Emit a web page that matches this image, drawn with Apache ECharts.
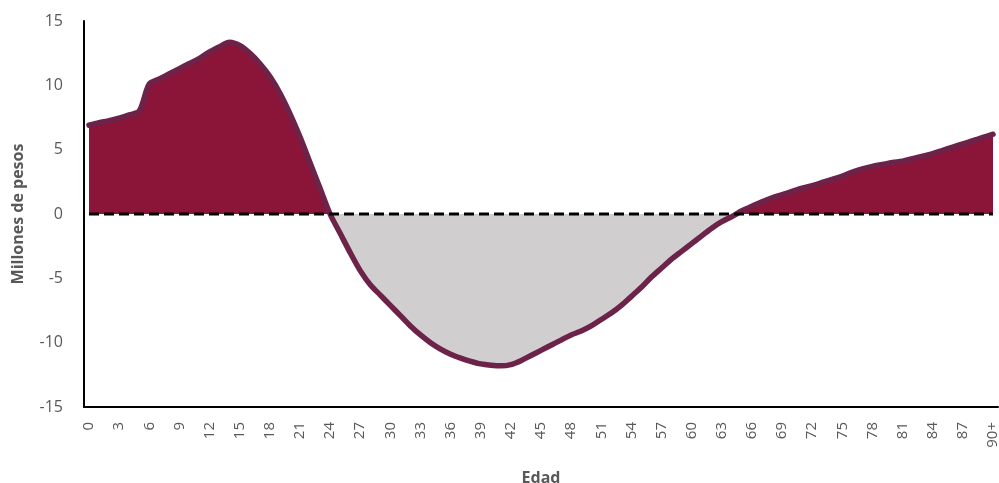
<!DOCTYPE html>
<html>
<head>
<meta charset="utf-8">
<script src="https://cdn.jsdelivr.net/npm/echarts@6/dist/echarts.min.js"></script>
<style>html,body{margin:0;padding:0;background:#fff}#c{width:999px;height:483px}</style>
</head>
<body>
<div id="c"></div>
<script>
const categories = [];
for (let a = 0; a < 90; a++) categories.push(String(a));
categories.push('90+');

const values = [
  6.9, 7.1, 7.25, 7.45, 7.7, 8.0, 10.1, 10.5, 10.9, 11.3,
  11.7, 12.1, 12.6, 13.0, 13.35, 13.1, 12.5, 11.7, 10.7, 9.4,
  7.8, 6.0, 4.0, 2.0, 0.0, -1.5, -3.0, -4.4, -5.5, -6.3,
  -7.1, -7.9, -8.7, -9.4, -10.0, -10.5, -10.9, -11.2, -11.45, -11.65,
  -11.75, -11.8, -11.7, -11.4, -11.0, -10.6, -10.2, -9.8, -9.4, -9.1,
  -8.7, -8.2, -7.7, -7.1, -6.4, -5.7, -4.9, -4.2, -3.5, -2.9,
  -2.3, -1.7, -1.1, -0.6, -0.2, 0.25, 0.6, 0.95, 1.25, 1.5,
  1.75, 2.0, 2.2, 2.45, 2.7, 2.95, 3.25, 3.5, 3.7, 3.85,
  4.0, 4.1, 4.3, 4.5, 4.7, 4.95, 5.2, 5.45, 5.7, 5.95,
  6.2
];
const zeroLine = categories.map(() => 0);
const yTicks = { min: -15, max: 15, interval: 5 };

const font = '"Open Sans", "Noto Sans", sans-serif';
const chart = echarts.init(document.getElementById('c'), null, { renderer: 'canvas' });
chart.setOption({
  animation: false,
  backgroundColor: '#fff',
  grid: { left: 84, right: 1, top: 21, bottom: 76, containLabel: false, outerBoundsMode: 'none' },
  visualMap: {
    show: false, type: 'piecewise', seriesIndex: 0, dimension: 1,
    pieces: [
      { gte: -100, lt: 0, color: '#D0CECF' },
      { gte: 0, lte: 100, color: '#8A1538' }
    ]
  },
  xAxis: {
    type: 'category', data: categories, boundaryGap: true,
    name: 'Edad', nameLocation: 'middle', nameGap: 63,
    nameTextStyle: { fontFamily: font, fontWeight: 'bold', fontSize: 16, color: '#595959' },
    axisLine: { onZero: false, lineStyle: { color: '#000', width: 2 } },
    axisTick: { show: false },
    axisLabel: {
      interval: 2, rotate: 90, margin: 15, fontFamily: font, fontSize: 15, color: '#595959'
    },
    splitLine: { show: false }
  },
  yAxis: {
    type: 'value', min: yTicks.min, max: yTicks.max, interval: yTicks.interval,
    name: 'Millones de pesos', nameLocation: 'middle', nameGap: 58, nameRotate: 90,
    nameTextStyle: { fontFamily: font, fontWeight: 'bold', fontSize: 16, color: '#595959' },
    axisLine: { show: true, lineStyle: { color: '#000', width: 2 } },
    axisTick: { show: false },
    axisLabel: { margin: 21, fontFamily: font, fontSize: 16, color: '#595959' },
    splitLine: { show: false }
  },
  series: [
    {
      type: 'line', data: values, smooth: 0.3, showSymbol: false, z: 2,
      lineStyle: { color: '#6C2249', width: 5.5, cap: 'round', join: 'round' },
      areaStyle: { opacity: 1 }
    },
    {
      type: 'line', data: zeroLine, showSymbol: false, z: 3, silent: true,
      lineStyle: { color: '#000', width: 3, type: [10, 5], cap: 'butt' }
    }
  ]
});
</script>
</body>
</html>
